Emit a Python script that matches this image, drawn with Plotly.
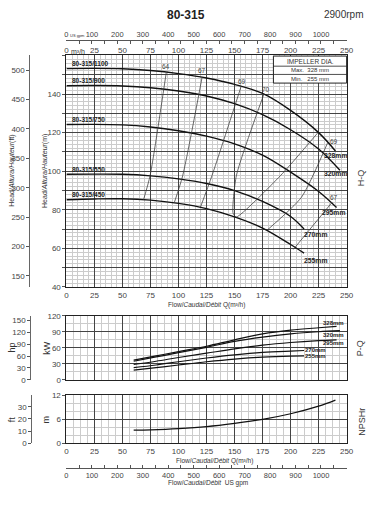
import plotly.graph_objects as go

W, H = 380, 511

# ---------------- data ----------------
flow_ticks = [0, 25, 50, 75, 100, 125, 150, 175, 200, 225, 250]
gpm_ticks = [0, 100, 200, 300, 400, 500, 600, 700, 800, 900, 1000]
head_m_ticks = [40, 50, 60, 70, 80, 90, 100, 110, 120, 130, 140, 150, 160]
head_m_text = ["40", "", "60", "", "80", "", "100", "", "120", "", "140", "", ""]
head_ft_ticks = [150, 200, 250, 300, 350, 400, 450, 500]
kw_ticks = [0, 30, 60, 90, 120]
hp_ticks = [0, 30, 60, 90, 120, 150]
npsh_m_ticks = [0, 6, 12]
npsh_ft_ticks = [0, 10, 20, 30]

# H-Q curves (Q m3/h, H m)
q_328 = [0, 25, 50, 75, 100, 125, 150, 175, 200, 225, 240]
h_328 = [153.2, 153.3, 153.1, 152.2, 150.6, 148.3, 145.0, 140.3, 131.5, 120.0, 110.5]
q_320 = [0, 25, 50, 75, 100, 125, 150, 175, 200, 225, 244]
h_320 = [144.3, 144.4, 144.2, 143.3, 141.6, 139.0, 135.0, 129.3, 121.5, 111.5, 100.5]
q_295 = [0, 25, 50, 75, 100, 125, 150, 175, 200, 225, 241]
h_295 = [124.2, 124.3, 124.0, 122.9, 121.0, 118.2, 114.2, 108.3, 99.5, 89.5, 81.2]
q_270 = [0, 25, 50, 75, 100, 125, 150, 175, 200, 212]
h_270 = [98.4, 98.5, 98.4, 97.6, 96.0, 93.6, 89.9, 84.3, 76.5, 70.0]
q_255 = [0, 25, 50, 75, 100, 125, 150, 175, 200, 212]
h_255 = [85.2, 85.6, 85.7, 85.0, 83.3, 80.6, 76.3, 70.5, 62.0, 57.5]

model_names = ["80-315/1100", "80-315/900", "80-315/750", "80-315/550", "80-315/450"]
model_name_h = [155.8, 146.9, 126.8, 101.0, 87.8]
dia_names = ["328mm", "320mm", "295mm", "270mm", "255mm"]
dia_label_q = [240, 240, 238.5, 222.5, 222.5]
dia_label_h = [108.2, 98.7, 78.4, 67.0, 53.9]

# iso-efficiency lines (Q, H)
eff64_q = [89.1, 74.6, 68.8]
eff64_h = [151.3, 97.6, 85.2]
eff67L_q = [121.1, 103.7, 96.4]
eff67L_h = [148.9, 97.6, 84.0]
eff69L_q = [155.9, 129.8, 119.6]
eff69L_h = [144.0, 97.6, 81.4]
eff70_q = [176.2, 151.6, 148.7, 151.6, 190.8, 224.1]
eff70_h = [140.0, 97.6, 78.2, 76.3, 97.6, 119.8]
eff69R_q = [233.0, 209.7, 179.2]
eff69R_h = [114.7, 86.5, 69.5]
eff67R_q = [237.2, 202.4]
eff67R_h = [84.0, 59.4]
eff_labels = ["64", "67", "69", "70", "69", "67"]
eff_label_q = [88.9, 121.0, 156.5, 177.8, 238.5, 238.5]
eff_label_h = [154.3, 152.0, 146.6, 142.2, 115.6, 86.6]

# P-Q curves (Q m3/h, P kW)
pq_q_328 = [60, 80, 100, 125, 150, 175, 200, 225, 241]
pq_p_328 = [37, 45, 53, 63, 75, 86, 93, 97.5, 100]
pq_q_320 = [60, 80, 100, 125, 150, 175, 200, 225, 244]
pq_p_320 = [35, 43, 51, 61, 72, 80, 86, 90, 92]
pq_q_295 = [60, 80, 100, 125, 150, 175, 200, 225, 241]
pq_p_295 = [29, 35, 42, 50, 58, 65, 70, 73.5, 75]
pq_q_270 = [60, 80, 100, 125, 150, 175, 200, 212]
pq_p_270 = [23, 28, 34, 41, 47, 51.5, 54, 55]
pq_q_255 = [60, 80, 100, 125, 150, 175, 200, 212]
pq_p_255 = [18.5, 23, 28, 34, 39, 42.5, 44.5, 45]
pq_label_q = [238.5, 238.5, 238.5, 222.5, 222.5]
pq_label_p = [105.5, 84.5, 69.3, 55.5, 44.5]

# NPSHr curve
npsh_q = [60, 75, 100, 125, 150, 175, 200, 225, 240]
npsh_m = [3.3, 3.4, 3.7, 4.2, 5.0, 6.0, 7.4, 9.3, 10.8]

# unit conversions
GPM_PER_M3H = 4.402868
M_PER_FT = 0.3048
KW_PER_HP = 0.745700

# ---------------- layout helpers ----------------
def px(x):
    return x / W

def py(y):
    return 1 - y / H

XD = [px(66), px(353)]
MAIN_D = [py(288), py(52.4)]
PQ_D = [py(382.7), py(317.3)]
NP_D = [py(447.3), py(398.3)]

FONT = "Liberation Sans Narrow, Liberation Sans, Arial, sans-serif"
SANS = "Liberation Sans, Arial, sans-serif"
tickfont = dict(family=FONT, size=8, color="#444")
smalltick = dict(family=FONT, size=7.5, color="#444")
MAJ = "#444444"
MIN = "#cccccc"

fig = go.Figure()

# H-Q curves
for q, h in [(q_328, h_328), (q_320, h_320), (q_295, h_295), (q_270, h_270), (q_255, h_255)]:
    fig.add_trace(go.Scatter(x=q, y=h, mode="lines", line=dict(color="#111", width=1.4, shape="spline"),
                             xaxis="x", yaxis="y", hoverinfo="skip", showlegend=False))
# efficiency lines
for q, h in [(eff64_q, eff64_h), (eff67L_q, eff67L_h), (eff69L_q, eff69L_h), (eff70_q, eff70_h),
             (eff69R_q, eff69R_h), (eff67R_q, eff67R_h)]:
    fig.add_trace(go.Scatter(x=q, y=h, mode="lines", line=dict(color="#3a3a3a", width=0.75, shape="spline", smoothing=0.6),
                             xaxis="x", yaxis="y", hoverinfo="skip", showlegend=False))
# P-Q curves
for q, p in [(pq_q_328, pq_p_328), (pq_q_320, pq_p_320), (pq_q_295, pq_p_295), (pq_q_270, pq_p_270), (pq_q_255, pq_p_255)]:
    fig.add_trace(go.Scatter(x=q, y=p, mode="lines", line=dict(color="#111", width=1.2, shape="spline"),
                             xaxis="x4", yaxis="y3", hoverinfo="skip", showlegend=False))
# NPSH
fig.add_trace(go.Scatter(x=npsh_q, y=npsh_m, mode="lines", line=dict(color="#111", width=1.2, shape="spline"),
                         xaxis="x5", yaxis="y5", hoverinfo="skip", showlegend=False))

# invisible traces so secondary axes are drawn
def dummy(xa, ya, xv, yv):
    fig.add_trace(go.Scatter(x=[xv], y=[yv], mode="markers", marker=dict(opacity=0, size=1),
                             xaxis=xa, yaxis=ya, hoverinfo="skip", showlegend=False))

dummy("x2", "y", 100, 100)
dummy("x3", "y", 400, 100)
dummy("x", "y2", 100, 300)
dummy("x4", "y4", 100, 50)
dummy("x5", "y6", 100, 10)
dummy("x6", "y5", 400, 5)

def grid_x(anchor, minor_dt, showlabels):
    return dict(domain=XD, anchor=anchor, range=[0, 250], tickmode="array", tickvals=flow_ticks,
                showticklabels=showlabels, tickfont=tickfont, ticks="", showgrid=True, gridcolor=MAJ,
                gridwidth=1, minor=dict(dtick=minor_dt, tick0=0, showgrid=True, gridcolor=MIN, gridwidth=0.5),
                showline=True, mirror=True, linecolor="#222", linewidth=1, zeroline=False, fixedrange=True)

def grid_y(dom, anchor, rng, vals, minor_dt, text=None):
    d = dict(domain=dom, anchor=anchor, range=rng, tickmode="array", tickvals=vals,
             tickfont=tickfont, ticks="outside", ticklen=3, tickcolor="#555",
             showgrid=True, gridcolor=MAJ, gridwidth=1,
             minor=dict(dtick=minor_dt, tick0=0, showgrid=True, gridcolor=MIN, gridwidth=0.5),
             showline=True, mirror=True, linecolor="#222", linewidth=1, zeroline=False, fixedrange=True)
    if text is not None:
        d["ticktext"] = text
    return d

def free_y(over, xpos, rng, vals):
    return dict(overlaying=over, anchor="free", position=px(xpos), side="left", range=rng,
                tickmode="array", tickvals=vals, tickfont=tickfont, ticks="outside", ticklen=3,
                tickcolor="#555", showgrid=False, showline=True, linecolor="#666", linewidth=1,
                zeroline=False, fixedrange=True)

def gpm_x(over, ypos, side):
    return dict(overlaying=over, anchor="free", position=py(ypos), side=side,
                range=[0, 250 * GPM_PER_M3H], tickmode="array", tickvals=gpm_ticks, tickfont=smalltick,
                ticks="inside", ticklen=3, tickcolor="#555",
                minor=dict(dtick=50, tick0=0, ticks="inside", ticklen=3, tickcolor="#555"),
                showgrid=False, showline=True, linecolor="#555", linewidth=1, zeroline=False, fixedrange=True)

fig.update_layout(
    width=W, height=H, autosize=False,
    margin=dict(l=0, r=0, t=0, b=0),
    paper_bgcolor="white", plot_bgcolor="white",
    showlegend=False,
    xaxis=grid_x("y", 5, True),
    yaxis=grid_y(MAIN_D, "x", [40, 160], head_m_ticks, 2, head_m_text),
    xaxis2=dict(overlaying="x", anchor="y", side="top", range=[0, 250], tickmode="array", tickvals=flow_ticks,
                tickfont=tickfont, ticks="", showgrid=False, showline=False, zeroline=False, fixedrange=True),
    xaxis3=gpm_x("x", 37, "top"),
    yaxis2=free_y("y", 28, [40 / M_PER_FT, 160 / M_PER_FT], head_ft_ticks),
    xaxis4=grid_x("y3", 6.25, False),
    yaxis3=grid_y(PQ_D, "x4", [0, 120], kw_ticks, 15),
    yaxis4=free_y("y3", 29, [0, 120 / KW_PER_HP], hp_ticks),
    xaxis5=grid_x("y5", 6.25, True),
    yaxis5=grid_y(NP_D, "x5", [0, 12], npsh_m_ticks, 2),
    yaxis6=free_y("y5", 30, [0, 12 / M_PER_FT], npsh_ft_ticks),
    xaxis6=gpm_x("x5", 472, "bottom"),
)

ann = []

def pa(text, x, y, size=8, color="#333", angle=0, xanchor="center", bold=False, family=FONT):
    if bold:
        text = "<b>" + text + "</b>"
    ann.append(dict(text=text, x=px(x), y=py(y), xref="paper", yref="paper", showarrow=False,
                    font=dict(family=family, size=size, color=color), textangle=angle,
                    xanchor=xanchor, yanchor="middle"))

# titles
pa("80-315", 188, 11, size=12, color="#222", bold=True, family=SANS)
pa("2900rpm", 350, 11, size=10, color="#333", family=SANS)
pa("US gpm", 67.5, 32.5, size=4, xanchor="left")
pa("m³/h", 69, 48, size=7, xanchor="left")
pa("Flow/<i>Caudal/Débit</i> Q(m³/h)", 209.5, 306.5, size=6.5)
pa("Flow/<i>Caudal/Débit</i> Q(m³/h)", 218, 465, size=6.5)
pa("Flow/<i>Caudal/Débit</i>  US gpm", 211, 487.5, size=6.5)
pa("Head/<i>Altura/Hauteur</i>(ft)", 10, 170, size=7, angle=-90)
pa("Head/<i>Altura/Hauteur</i>(m)", 44, 170, size=7, angle=-90)
pa("hp", 10, 350, size=9, angle=-90)
pa("kW", 46, 350, size=9, angle=-90)
pa("ft", 10, 423, size=9, angle=-90)
pa("m", 45, 423, size=9, angle=-90)
pa("H-Q", 368, 177, size=9, angle=-90, family=SANS)
pa("P-Q", 367, 350, size=9, angle=-90, family=SANS)
pa("NPSHr", 368, 425, size=9, angle=-90, family=SANS)

# impeller box text
pa("IMPELLER DIA.", 315.5, 58.3, size=6.5)
pa("Max.  328 mm", 315.5, 67.5, size=6)
pa("Min.   255 mm", 315.5, 76, size=6)

def da(text, q, h, xa="x", ya="y", size=7, bold=False, xanchor="center", color="#222"):
    if bold:
        text = "<b>" + text + "</b>"
    ann.append(dict(text=text, x=q, y=h, xref=xa, yref=ya, showarrow=False, xanchor=xanchor,
                    yanchor="middle", font=dict(family=SANS, size=size, color=color)))

for name, hh in zip(model_names, model_name_h):
    da(name, 3.5, hh, size=6.5, bold=True, xanchor="left")
for name, qq, hh in zip(dia_names, dia_label_q, dia_label_h):
    da(name, qq, hh, size=6.8, bold=True)
for name, qq, hh in zip(eff_labels, eff_label_q, eff_label_h):
    da(name, qq, hh, size=6.5, color="#444")
for name, qq, pp in zip(dia_names, pq_label_q, pq_label_p):
    da(name, qq, pp, xa="x4", ya="y3", size=6, bold=True)

fig.update_layout(annotations=ann)

# impeller box
shapes = [
    dict(type="rect", xref="paper", yref="paper", x0=px(278), x1=px(353), y0=py(80.5), y1=py(53),
         fillcolor="white", line=dict(color="#222", width=1), layer="above"),
    dict(type="line", xref="paper", yref="paper", x0=px(278), x1=px(353), y0=py(63.3), y1=py(63.3),
         line=dict(color="#222", width=0.8), layer="above"),
    dict(type="line", xref="paper", yref="paper", x0=px(278), x1=px(353), y0=py(71.7), y1=py(71.7),
         line=dict(color="#222", width=0.8), layer="above"),
]
fig.update_layout(shapes=shapes)

fig.write_html("out.html", config=dict(displayModeBar=False),
               post_script="document.body.style.margin='0';document.body.style.overflow='hidden';")
